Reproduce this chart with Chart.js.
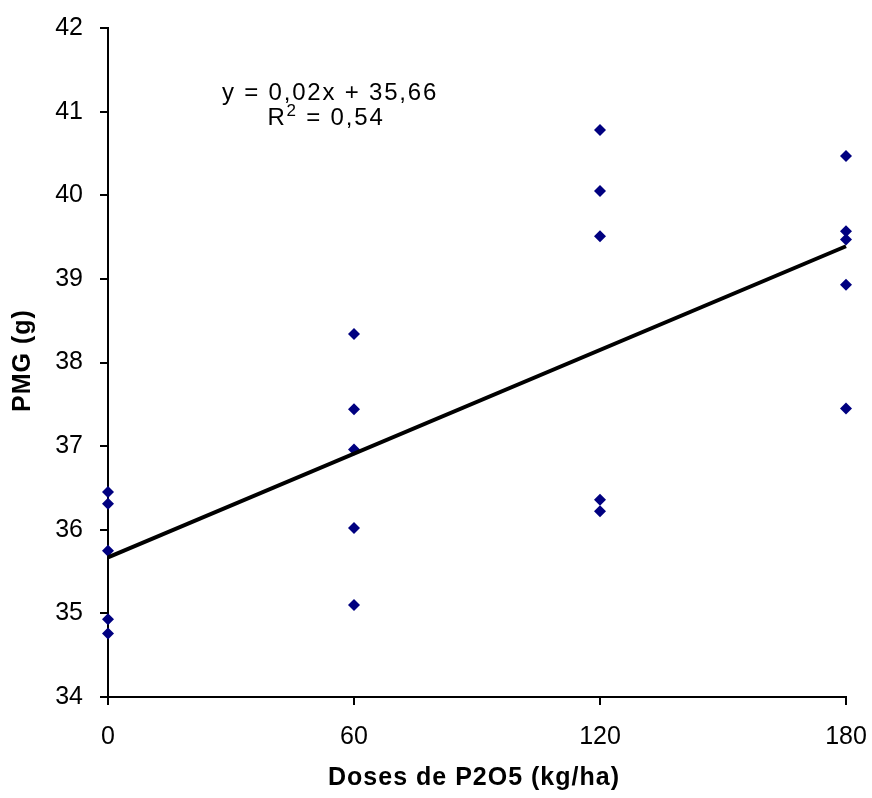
<!DOCTYPE html>
<html>
<head>
<meta charset="utf-8">
<script src="https://cdn.jsdelivr.net/npm/chart.js@4/dist/chart.umd.min.js"></script>
<style>
html,body{margin:0;padding:0;background:#fff;}
#wrap{width:872px;height:798px;position:relative;}
</style>
</head>
<body>
<div id="wrap"><canvas id="c"></canvas></div>
<script>
// ---- data ----
const doses = [0, 60, 120, 180];
const pmgDose0   = [36.45, 36.31, 35.75, 34.93, 34.76];
const pmgDose60  = [38.34, 37.44, 36.96, 36.02, 35.10];
const pmgDose120 = [40.78, 40.05, 39.51, 36.36, 36.22];
const pmgDose180 = [40.47, 39.57, 39.47, 38.93, 37.45];
const trendX = [0, 180];
const trendY = [35.67, 39.39];
const equationText = 'y = 0,02x + 35,66';
const r2Value = '0,54';
const xTitle = 'Doses de P2O5 (kg/ha)';
const yTitle = 'PMG (g)';

const groups = [pmgDose0, pmgDose60, pmgDose120, pmgDose180];
const points = [];
groups.forEach((vals, i) => vals.forEach(v => points.push({x: doses[i], y: v})));
const trend = trendX.map((x, i) => ({x, y: trendY[i]}));

const FONT = "'Liberation Sans', Arial, sans-serif";

const textPlugin = {
  id: 'texts',
  afterDraw(chart) {
    const ctx = chart.ctx;
    const area = chart.chartArea;
    ctx.save();
    ctx.fillStyle = '#000';
    // equation
    ctx.letterSpacing = '1.8px';
    ctx.font = '24px ' + FONT;
    ctx.textAlign = 'center';
    ctx.textBaseline = 'alphabetic';
    ctx.fillText(equationText, 330, 100);
    // R² line
    const rPart = 'R';
    const rest = ' = ' + r2Value;
    ctx.textAlign = 'left';
    const wR = ctx.measureText(rPart).width;
    ctx.font = '17px ' + FONT;
    const w2 = ctx.measureText('2').width;
    ctx.font = '24px ' + FONT;
    const wRest = ctx.measureText(rest).width;
    let x0 = 326 - (wR + w2 + wRest) / 2;
    ctx.fillText(rPart, x0, 125);
    ctx.font = '17px ' + FONT;
    ctx.fillText('2', x0 + wR, 116);
    ctx.font = '24px ' + FONT;
    ctx.fillText(rest, x0 + wR + w2, 125);
    // axis titles
    ctx.letterSpacing = '1px';
    ctx.font = 'bold 25px ' + FONT;
    ctx.textAlign = 'center';
    ctx.textBaseline = 'middle';
    ctx.fillText(xTitle, 474, 778);
    ctx.translate(23, (area.top + area.bottom) / 2 - 2);
    ctx.rotate(-Math.PI / 2);
    ctx.fillText(yTitle, 0, 0);
    ctx.restore();
  }
};

new Chart(document.getElementById('c'), {
  type: 'scatter',
  data: {
    datasets: [
      {
        type: 'line',
        data: trend,
        showLine: true,
        borderColor: '#000',
        borderWidth: 4,
        pointRadius: 0,
        fill: false,
        clip: false,
        order: 0
      },
      {
        data: points,
        pointStyle: 'rectRot',
        pointRadius: 6,
        pointBackgroundColor: '#000080',
        pointBorderColor: '#000080',
        pointBorderWidth: 0,
        clip: false,
        order: 1
      }
    ]
  },
  options: {
    responsive: true,
    maintainAspectRatio: false,
    animation: false,
    layout: {padding: {top: 28, right: 26, left: 0, bottom: 0}},
    plugins: {legend: {display: false}, tooltip: {enabled: false}},
    scales: {
      x: {
        type: 'linear', min: 0, max: 180,
        ticks: {stepSize: 60, color: '#000', font: {size: 25, family: FONT}, padding: 17},
        grid: {drawOnChartArea: false, drawTicks: true, tickLength: 8, color: '#000', lineWidth: 2},
        border: {color: '#000', width: 2},
        afterFit(s) { s.height = 101; s.paddingLeft = 0; s.paddingRight = 0; }
      },
      y: {
        min: 34, max: 42,
        ticks: {stepSize: 1, color: '#000', font: {size: 25, family: FONT}, padding: 17},
        grid: {drawOnChartArea: false, drawTicks: true, tickLength: 8, color: '#000', lineWidth: 2},
        border: {color: '#000', width: 2},
        afterFit(s) { s.width = 108; s.paddingTop = 0; s.paddingBottom = 0; }
      }
    }
  },
  plugins: [textPlugin]
});
</script>
</body>
</html>
